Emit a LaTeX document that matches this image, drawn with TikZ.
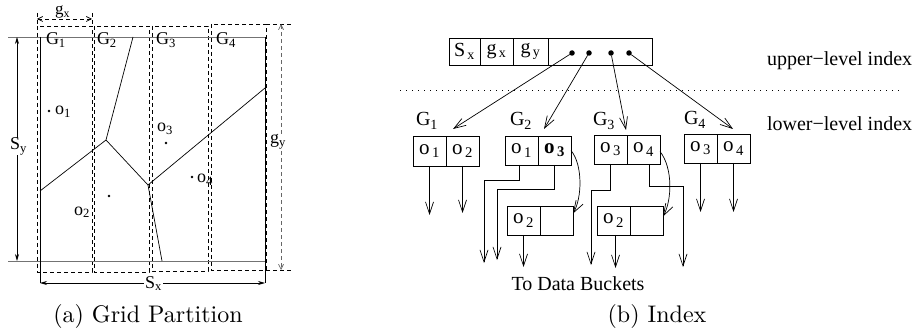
\documentclass[tikz,border=0pt]{standalone}
\usepackage{fontspec}
\newfontfamily\tms{Liberation Serif}
\usetikzlibrary{arrows.meta}
\begin{document}
\begin{tikzpicture}[x=1pt,y=-1pt,
  every node/.style={inner sep=0pt, outer sep=0pt},
  tms/.style={font=\tms\fontsize{20}{24}\selectfont},
  tmsS/.style={font=\tms\fontsize{18}{22}\selectfont},
  ln/.style={line width=0.7pt},
  gln/.style={line width=0.9pt, black!55},
  dsh/.style={line width=0.7pt, dash pattern=on 4pt off 3pt},
  cell/.style={draw, line width=0.8pt, minimum width=33pt, minimum height=29pt, anchor=north west, font=\tms\fontsize{21}{24}\selectfont},
  ucell/.style={draw, line width=0.8pt, minimum height=27pt, anchor=north west, tms},
  barb/.style={line width=0.7pt, -{Straight Barb[length=12pt,width=8pt]}},
  stl/.style={line width=0.7pt, {Stealth[length=7pt,width=4pt]}-{Stealth[length=7pt,width=4pt]}},
  sbarb/.style={line width=0.7pt, {Straight Barb[length=5pt,width=5pt]}-{Straight Barb[length=5pt,width=5pt]}},
  dot/.style={circle, fill, minimum size=2.8pt},
  dotb/.style={circle, fill, minimum size=5.5pt},
]
\useasboundingbox (0,0) rectangle (913,331);

% ---------------- left panel ----------------
\coordinate (tl0) at (8,37);  \coordinate (bl0) at (8,261);
\coordinate (tr) at (265,37); \coordinate (br) at (265,261);
\coordinate (tl) at (40,37);  \coordinate (sxl) at (40,283); \coordinate (sxr) at (265,283);
% dashed grid cells
\draw[dsh] (37,26) rectangle (92,272);
\draw[dsh] (94,26) rectangle (149,272);
\draw[dsh] (152,26) rectangle (208,271);
\draw[dsh] (211,24) rectangle (266,270);
\draw[dsh] (37,13) -- (37,26);
\draw[dsh] (92,13) -- (92,26);
\draw[dsh] (266,24) -- (293,24);
\draw[dsh] (266,270) -- (293,270);
% main rectangle
\draw[gln] (tl0) -- (tr);
\draw[gln] (bl0) -- (br);
\draw[ln] (tl) -- (sxl);
\draw[ln] (tr) -- (sxr);
% Voronoi
\coordinate (v1) at (106,140); \coordinate (v2) at (148,185);
\draw[ln] (133,37) -- (v1) -- (40,191);
\draw[ln] (v1) -- (v2) -- (265,88);
\draw[ln] (v2) -- (162,261);
% dimension arrows
\coordinate (sy1) at (17,37); \coordinate (sy2) at (17,261);
\draw[stl] (sy1) -- (sy2);
\draw[stl] (sxl) -- (sxr);
\coordinate (gx1) at (37,19); \coordinate (gx2) at (92,19);
\draw[sbarb, dash pattern=on 4pt off 3pt] (gx1) -- (gx2);
\coordinate (gy1) at (281,24); \coordinate (gy2) at (281,270);
\draw[sbarb, black!60, dash pattern=on 4pt off 3pt] (gy1) -- (gy2);
% labels
\node[tmsS, anchor=base west, fill=white] (lsy) at (10,150) {S\textsubscript{y}};
\node[tmsS, anchor=base west, fill=white, inner xsep=1pt] (lsx) at (144,288) {S\textsubscript{x}};
\node[font=\tms\fontsize{17}{20}\selectfont, anchor=base west] (lgx) at (55,14.5) {g\textsubscript{x}};
\node[tmsS, anchor=base west, fill=white, inner ysep=1pt] (lgy) at (270,144) {g\textsubscript{y}};
\node[tmsS, anchor=base west] (lg1) at (46,45) {G\textsubscript{1}};
\node[tmsS, anchor=base west] (lg2) at (97,45) {G\textsubscript{2}};
\node[tmsS, anchor=base west] (lg3) at (156,45) {G\textsubscript{3}};
\node[tmsS, anchor=base west] (lg4) at (216,45) {G\textsubscript{4}};
\node[dot] (p1) at (49,111) {};
\node[dot] (p2) at (109,196) {};
\node[dot] (p3) at (166,143) {};
\node[dot] (p4) at (192,177) {};
\node[tmsS, anchor=base west] (lo1) at (55,115) {o\textsubscript{1}};
\node[tmsS, anchor=base west] (lo2) at (74,215) {o\textsubscript{2}};
\node[tmsS, anchor=base west] (lo3) at (157,132) {o\textsubscript{3}};
\node[tmsS, anchor=base west] (lo4) at (197,183) {o\textsubscript{4}};
\node[anchor=base] (capa) at (148,322) {\scalebox{2.4}{(a) Grid Partition}};

% ---------------- right panel ----------------
\node[ucell, minimum width=31pt] (sx) at (449,38) {S\textsubscript{\,x}};
\node[ucell, minimum width=33pt] (gx) at (480,38) {g\textsubscript{\,x}};
\node[ucell, minimum width=35pt] (gy) at (513,38) {g\textsubscript{\,y}};
\node[ucell, minimum width=104pt] (ptr) at (548,38) {};
\node[dotb] (d1) at (572,53) {};
\node[dotb] (d2) at (589,53) {};
\node[dotb] (d3) at (611,53) {};
\node[dotb] (d4) at (629,53) {};
\coordinate (dl1) at (400,90); \coordinate (dl2) at (900,90);
\draw[line width=0.8pt, dash pattern=on 0.8pt off 5.2pt] (dl1) -- (dl2);
\node[tms, anchor=base west] (upl) at (767,66) {upper−level index};
\node[tms, anchor=base west] (lol) at (767,131) {lower−level index};

\node[tms, anchor=base west] (G1) at (416,126) {G\textsubscript{1}};
\node[tms, anchor=base west] (G2) at (510,126) {G\textsubscript{2}};
\node[tms, anchor=base west] (G3) at (593,126) {G\textsubscript{3}};
\node[tms, anchor=base west] (G4) at (684,125) {G\textsubscript{4}};

\node[cell, minimum height=30pt] (g1a) at (413,136) {o\textsubscript{\,1}};
\node[cell, minimum height=30pt] (g1b) at (446,136) {o\textsubscript{\,2}};
\node[cell] (g2a) at (505,136) {o\textsubscript{\,1}};
\node[cell] (g2b) at (538,136) {\textbf{o}\textsubscript{\,\textbf{3}}};
\node[cell] (g3a) at (594,135) {o\textsubscript{\,3}};
\node[cell] (g3b) at (627,135) {o\textsubscript{\,4}};
\node[cell] (g4a) at (684,134) {o\textsubscript{\,3}};
\node[cell] (g4b) at (717,134) {o\textsubscript{\,4}};
\node[cell] (g2c) at (507,206) {o\textsubscript{\,2}};
\node[cell] (g2d) at (540,206) {};
\node[cell] (g3c) at (597,206) {o\textsubscript{\,2}};
\node[cell] (g3d) at (630,206) {};

\coordinate (t1) at (453,129);
\coordinate (t2) at (544,129);
\coordinate (t3) at (626,130);
\coordinate (t4) at (733,129);
\draw[barb] (d1) -- (t1);
\draw[barb] (d2) -- (t2);
\draw[barb] (d3) -- (t3);
\draw[barb] (d4) -- (t4);

\draw[barb] (g1a.south) -- ++(0,49);
\draw[barb] (g1b.south) -- ++(0,47);
\coordinate (e1) at (484,263);
\coordinate (e2) at (497,260);
\draw[barb] ([xshift=-2pt]g2a.south) -- ++(0,15) -| (e1);
\draw[barb] (g2b.south) -- ++(0,24) -| (e2);
\draw[barb] (g2b.east) .. controls (583,165) and (582,198) .. ([yshift=7pt]g2d.east);
\draw[barb] (g2c.south) -- ++(0,32);
\coordinate (e3) at (591,265);
\coordinate (e4) at (683,267);
\draw[barb] (g3a.south) -- ++(0,26) -| (e3);
\draw[barb] ([xshift=6pt]g3b.south) -- ++(0,22) -| (e4);
\draw[barb] ([yshift=-2pt]g3b.east) .. controls (673,168) and (672,200) .. ([yshift=4pt]g3d.east);
\draw[barb] ([xshift=2pt]g3c.south) -- ++(0,33);
\draw[barb] (g4a.south) -- ++(0,49);
\draw[barb] (g4b.south) -- ++(0,49);

\node[tms, anchor=base] (tdb) at (578,290) {To Data Buckets};
\node[anchor=base] (capb) at (657,322) {\scalebox{2.4}{(b) Index}};
\end{tikzpicture}
\end{document}
